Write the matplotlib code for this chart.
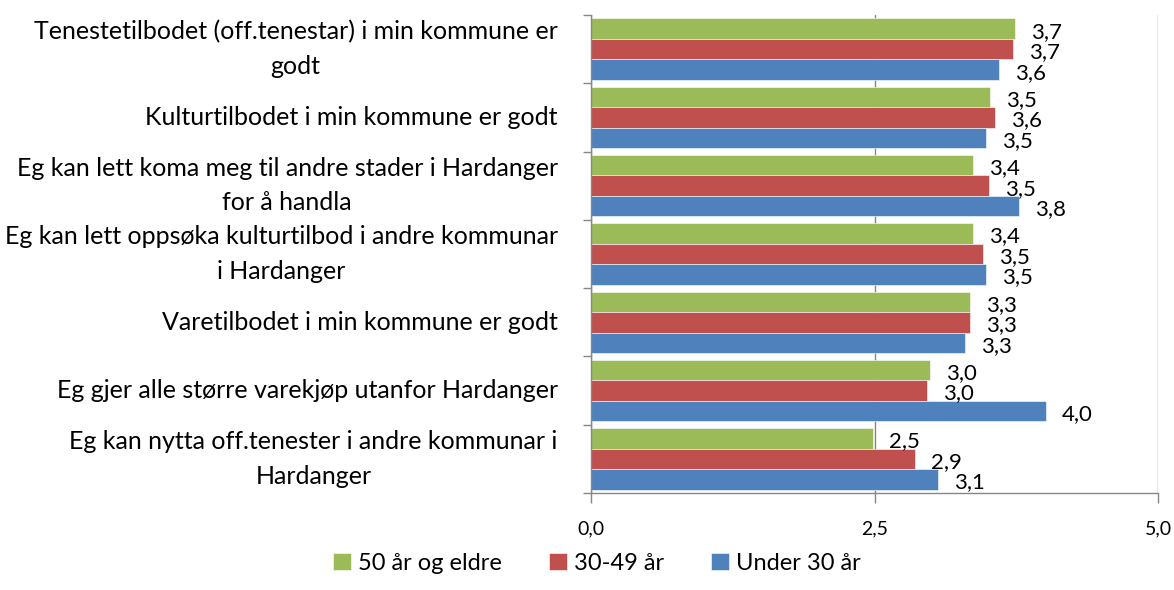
import numpy as np
import matplotlib
matplotlib.use("Agg")
import matplotlib.pyplot as plt
from matplotlib.ticker import FixedLocator, NullFormatter, FixedFormatter

plt.rcParams['font.family'] = ['Lato', 'DejaVu Sans']

categories = [
    "Tenestetilbodet (off.tenestar) i min kommune er\ngodt",
    "Kulturtilbodet i min kommune er godt",
    "Eg kan lett koma meg til andre stader i Hardanger\nfor å handla",
    "Eg kan lett oppsøka kulturtilbod i andre kommunar\ni Hardanger",
    "Varetilbodet i min kommune er godt",
    "Eg gjer alle større varekjøp utanfor Hardanger",
    "Eg kan nytta off.tenester i andre kommunar i\nHardanger",
]
series_names = ["50 år og eldre", "30-49 år", "Under 30 år"]
vals_50 = [3.74, 3.52, 3.37, 3.37, 3.34, 2.99, 2.49]
vals_30 = [3.72, 3.56, 3.51, 3.46, 3.34, 2.96, 2.86]
vals_u30 = [3.60, 3.48, 3.77, 3.48, 3.30, 4.01, 3.06]
colors = ["#9BBB59", "#C0504D", "#4F81BD"]
xticks = [0.0, 2.5, 5.0]
xtick_labels = ["0,0", "2,5", "5,0"]

fig = plt.figure(figsize=(11.74, 5.90), dpi=100)
ax = fig.add_axes([591/1174, 1-493/590, (1158-591)/1174, (493-15)/590])

y = np.arange(len(categories))
h = 0.3
offsets = [-h, 0.0, h]
all_vals = [vals_50, vals_30, vals_u30]
for vals, off, col, name in zip(all_vals, offsets, colors, series_names):
    ax.barh(y + off, vals, height=h, color=col, label=name,
            edgecolor='white', linewidth=0.4)
    for yy, v in zip(y + off, vals):
        ax.annotate(f"{v:.1f}".replace('.', ','), xy=(v, yy),
                    xytext=(16, -3), textcoords='offset pixels',
                    ha='left', va='center', fontsize=16, color='black')

ax.set_xlim(0, 5)
ax.set_ylim(len(categories) - 0.5, -0.5)

ax.xaxis.set_major_locator(FixedLocator(xticks))
ax.xaxis.set_major_formatter(FixedFormatter(xtick_labels))
ax.tick_params(axis='x', direction='out', length=7, width=1, color='#868686',
               labelsize=14, pad=13)
ax.grid(axis='x', color='#868686', linewidth=1)
ax.set_axisbelow(True)

bounds = np.arange(len(categories) + 1) - 0.5
ax.yaxis.set_major_locator(FixedLocator(bounds))
ax.yaxis.set_major_formatter(NullFormatter())
ax.yaxis.set_minor_locator(FixedLocator(y))
ax.yaxis.set_minor_formatter(FixedFormatter(categories))
ax.tick_params(axis='y', which='major', direction='out', length=6, width=1,
               color='#868686')
ax.tick_params(axis='y', which='minor', length=0, labelsize=18, pad=24)
for lab in ax.get_yticklabels(minor=True):
    lab.set_multialignment('center')
    lab.set_linespacing(1.6)
    lab.set_verticalalignment('center')

for s in ['top', 'right']:
    ax.spines[s].set_visible(False)
for s in ['left', 'bottom']:
    ax.spines[s].set_color('#868686')
    ax.spines[s].set_linewidth(1)

fig.legend(loc='center', bbox_to_anchor=(597/1174, 1-563/590), ncol=3,
           frameon=False, fontsize=17, handlelength=0.75, handleheight=0.75,
           handletextpad=0.3, columnspacing=2.0)

fig.savefig("out.png", dpi=100)
